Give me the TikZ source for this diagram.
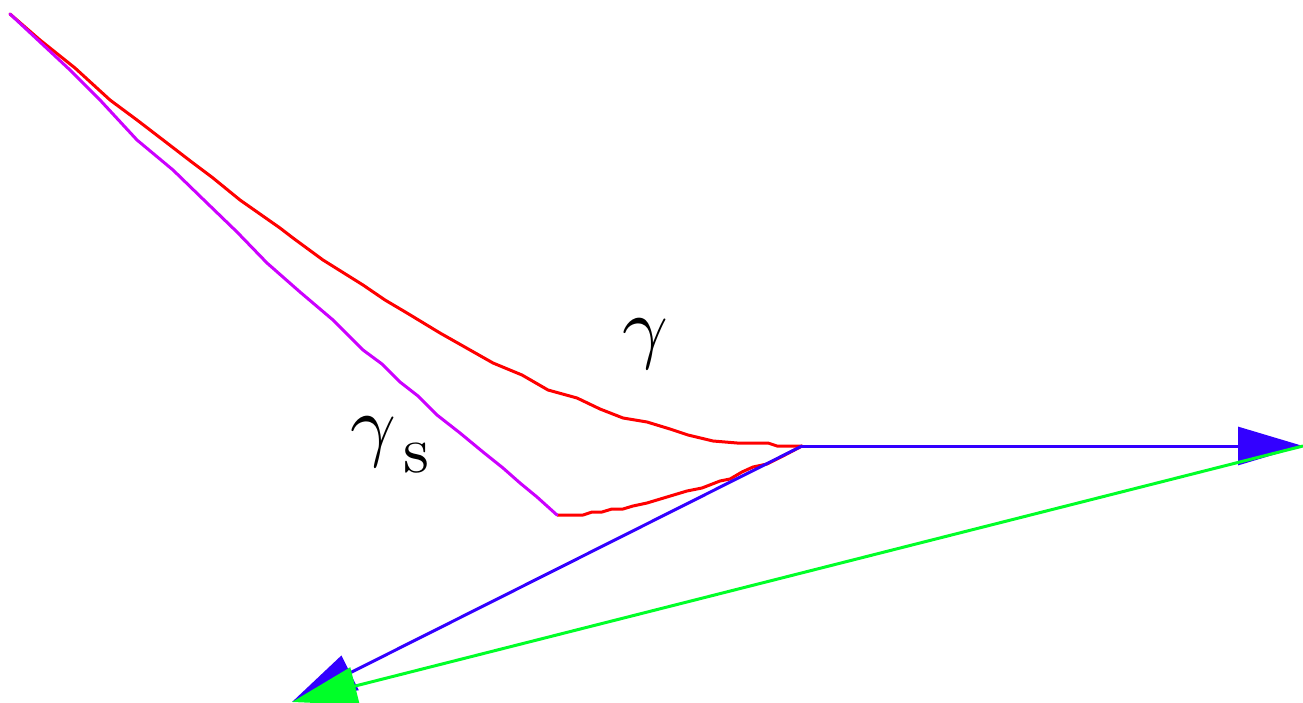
\documentclass[tikz,border=0pt]{standalone}
\usepackage{graphicx}
\usetikzlibrary{arrows.meta}
\definecolor{cred}{RGB}{255,0,0}
\definecolor{cpurple}{RGB}{204,0,255}
\definecolor{cblue}{RGB}{51,0,255}
\definecolor{cgreen}{RGB}{0,255,40}
\begin{document}
\begin{tikzpicture}[x=1pt,y=-1pt,
  curve/.style={line width=3pt,line join=round,line cap=round},
  redcurve/.style={curve,draw=cred},
  purplecurve/.style={curve,draw=cpurple},
  vecarrow/.style={line width=3pt,-{Triangle[length=65pt,width=38pt]}},
  bluearrow/.style={vecarrow,draw=cblue,fill=cblue},
  greenarrow/.style={vecarrow,draw=cgreen,fill=cgreen},
  lbl/.style={inner sep=0pt,anchor=base west}]
\useasboundingbox (0,0) rectangle (1303,703);
\coordinate (A) at (10,14);
\coordinate (O) at (802,446);
\coordinate (S) at (557,515);
\coordinate (E) at (1303,446);
\coordinate (L) at (292,702);
% gamma (upper red curve)
\draw[redcurve] (A) -- (40,40) -- (75,68) -- (110,100) -- (137,120) -- (167,143) -- (193,163) -- (213,178) -- (240,200) -- (280,228) -- (293,238) -- (323,260) -- (363,285) -- (385,300) -- (407,313) -- (440,333) -- (493,363) -- (522,375) -- (548,390) -- (577,398) -- (600,409) -- (623,418) -- (647,422) -- (670,429) -- (688,435) -- (713,441) -- (737,443) -- (768,443) -- (777,446) -- (O);
% lower red part
\draw[redcurve] (S) -- (583,515) -- (592,512) -- (602,512) -- (612,509) -- (623,509) -- (633,506) -- (647,503) -- (667,497) -- (687,491) -- (702,488) -- (720,481) -- (730,479) -- (742,472) -- (753,467) -- (767,464) -- (783,456) -- (O);
% gamma_s (purple)
\draw[purplecurve] (A) -- (40,42) -- (70,70) -- (100,100) -- (137,140) -- (173,170) -- (207,203) -- (237,232) -- (267,263) -- (300,292) -- (333,320) -- (363,350) -- (382,364) -- (400,382) -- (418,396) -- (437,415) -- (460,433) -- (483,452) -- (503,468) -- (520,483) -- (537,497) -- (S);
% vectors
\draw[bluearrow] (O) -- (E);
\draw[bluearrow] (O) -- (L);
\draw[greenarrow] (E) -- (L);
% labels
\node[lbl] (g) at (622,353) {\scalebox{8}{$\gamma$}};
\node[lbl] (gs) at (350,451) {\scalebox{8}{$\gamma$}\kern7pt\raisebox{-21pt}{\scalebox{6.6}{s}}};
\end{tikzpicture}
\end{document}
